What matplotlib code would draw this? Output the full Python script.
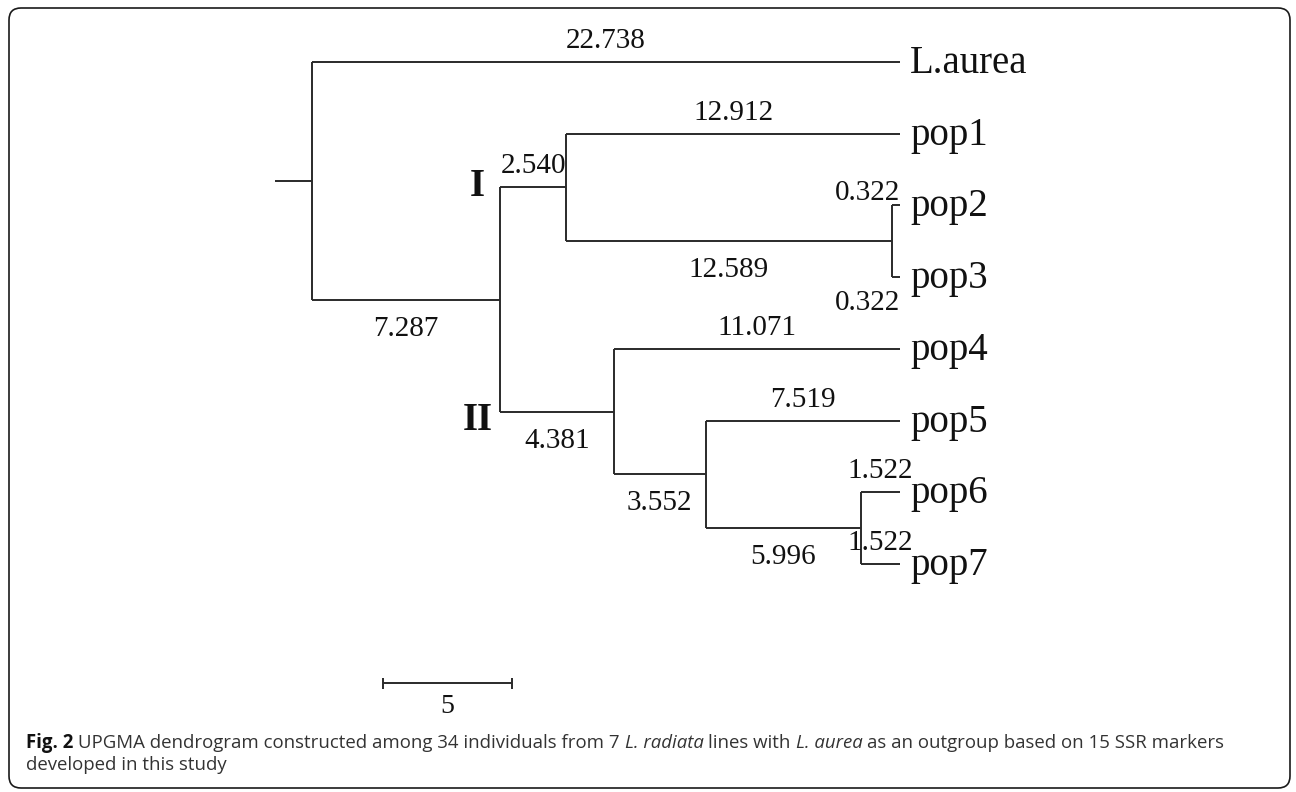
import matplotlib.pyplot as plt
from matplotlib.patches import FancyBboxPatch
from matplotlib.transforms import IdentityTransform

# leaves, top to bottom, with the length of their terminal branch
leaf_names = ["L.aurea", "pop1", "pop2", "pop3", "pop4", "pop5", "pop6", "pop7"]
leaf_lengths = [22.738, 12.912, 0.322, 0.322, 11.071, 7.519, 1.522, 1.522]

# internal nodes (children listed before parents) and the branch above each
node_names = ["n23", "I", "n67", "n567", "II", "n_in", "root"]
node_children = [("pop2", "pop3"), ("pop1", "n23"), ("pop6", "pop7"),
                 ("pop5", "n67"), ("pop4", "n567"), ("I", "II"),
                 ("L.aurea", "n_in")]
node_lengths = [12.589, 2.540, 5.996, 3.552, 4.381, 7.287, None]

clade_labels = ["I", "II"]
scale_value = 5

caption_line1 = [("Fig. 2", "bold"),
                 ("UPGMA dendrogram constructed among 34 individuals from 7", "normal"),
                 ("L. radiata", "italic"),
                 ("lines with", "normal"),
                 ("L. aurea", "italic"),
                 ("as an outgroup based on 15 SSR markers", "normal")]
caption_line2 = "developed in this study"

# ---- tree layout ----
length = dict(zip(leaf_names, leaf_lengths))
length.update(zip(node_names, node_lengths))
children = dict(zip(node_names, node_children))

ypos = {name: i for i, name in enumerate(leaf_names)}
for name in node_names:
    a, b = children[name]
    ypos[name] = (ypos[a] + ypos[b]) / 2

xpos = {"root": 0.0}
for name in reversed(node_names):
    for c in children[name]:
        xpos[c] = xpos[name] + length[c]

W, H, DPI = 1296, 792, 100
fig = plt.figure(figsize=(W / DPI, H / DPI), dpi=DPI)
ax = fig.add_axes([0, 0, 1, 1])
ax.axis("off")

px_unit = 25.86   # pixels per distance unit
row_px = 71.7     # pixels between leaves
ax.set_xlim(-312 / px_unit, (W - 312) / px_unit)
ax.set_ylim((H - 62) / row_px, -62 / row_px)

line_kw = dict(color="#2a2a2a", lw=1.4, solid_capstyle="butt")
serif = "Liberation Serif"
txt_col = "#111111"

# branches
for name in node_names:
    a, b = children[name]
    ax.plot([xpos[name], xpos[name]], [ypos[a], ypos[b]], **line_kw)
    for c in (a, b):
        ax.plot([xpos[name], xpos[c]], [ypos[c], ypos[c]], **line_kw)
ax.plot([-37 / px_unit, 0], [ypos["root"], ypos["root"]], **line_kw)

# branch length labels
parent = {c: p for p, cs in children.items() for c in cs}
below = {"n23", "n_in", "II", "n567", "n67", "pop3"}
special = {"pop2": (0, 5, "right"), "pop3": (0, -33, "right")}
for name, p in parent.items():
    x0, x1 = xpos[p], xpos[name]
    if name in special:
        dx, dy, ha = special[name]
        xa = x1
    else:
        dx, dy, ha = 0, (-36 if name in below else 14), "center"
        xa = (x0 + x1) / 2
    ax.annotate(f"{length[name]:.3f}", (xa, ypos[name]), xytext=(dx, dy),
                textcoords="offset pixels", ha=ha, va="baseline",
                fontsize=21, family=serif, color=txt_col)

# leaf names
for name in leaf_names:
    ax.annotate(name, (xpos[name], ypos[name]), xytext=(10, -11),
                textcoords="offset pixels", ha="left", va="baseline",
                fontsize=28, family=serif, color=txt_col)

# clade labels I and II
for lab, dy in zip(clade_labels, (-9, -18)):
    ax.annotate(lab, (xpos["n_in"], ypos[lab]), xytext=(-23, dy),
                textcoords="offset pixels", ha="center", va="baseline",
                fontsize=28, family=serif, fontweight="bold", color=txt_col)

# scale bar
sb_x, sb_y = 71 / px_unit, (683 - 62) / row_px
ax.plot([sb_x, sb_x + scale_value], [sb_y, sb_y], **line_kw)
for xx in (sb_x, sb_x + scale_value):
    ax.plot([xx, xx], [sb_y - 5.5 / row_px, sb_y + 5.5 / row_px], **line_kw)
ax.annotate(str(scale_value), (sb_x + scale_value / 2, sb_y), xytext=(0, -30),
            textcoords="offset pixels", ha="center", va="baseline",
            fontsize=20, family=serif, color=txt_col)

# frame
frame = FancyBboxPatch((9, 4), 1281, 780, boxstyle="round,pad=0,rounding_size=12",
                       transform=IdentityTransform(), fill=False, lw=1.2,
                       ec="#1a1a1a")
fig.add_artist(frame)

# caption, drawn piece by piece
cap_font = "Open Sans"
cap_size = 13.4
renderer = fig.canvas.get_renderer()


def width_of(s, **kw):
    t = fig.text(0, 0, s, transform=IdentityTransform(), **kw)
    w = t.get_window_extent(renderer).width
    t.remove()
    return w


space = (width_of("x x", family=cap_font, fontsize=cap_size)
         - width_of("xx", family=cap_font, fontsize=cap_size))

x = 26
y1 = H - 748
for s, style in caption_line1:
    kw = dict(family=cap_font, fontsize=cap_size)
    if style == "bold":
        kw.update(fontweight="bold", color="#111111")
    else:
        kw.update(color="#333333")
        if style == "italic":
            kw.update(style="italic")
    t = fig.text(x, y1, s, transform=IdentityTransform(), ha="left",
                 va="baseline", **kw)
    x = t.get_window_extent(renderer).x1 + space

fig.text(26, H - 770, caption_line2, transform=IdentityTransform(), ha="left",
         va="baseline", family=cap_font, fontsize=cap_size, color="#333333")

fig.savefig("out.png", dpi=DPI)
